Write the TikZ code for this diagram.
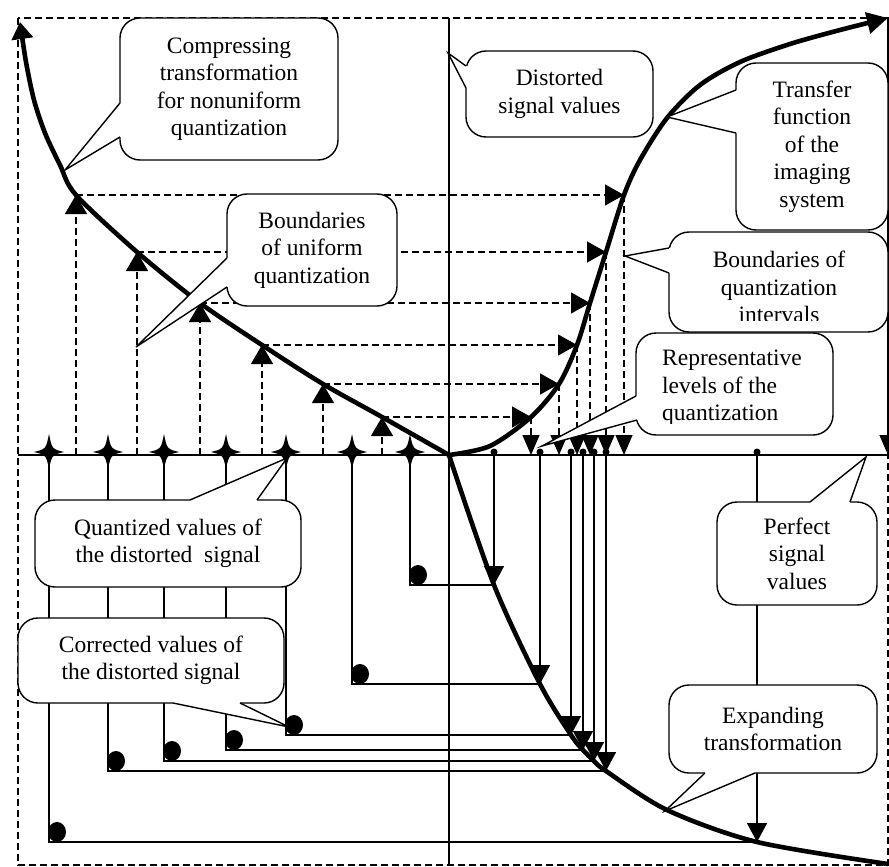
\documentclass[tikz,border=0pt]{standalone}
\usepackage{fontspec}
\setmainfont{Liberation Serif}
\usepackage{tikz}
\usetikzlibrary{arrows.meta, calc}
\newcommand{\bubbletail}[4]{%
  \fill[white] ($(#1)+(#4)$) -- (#1) -- (#2) -- (#3) -- ($(#3)+(#4)$) -- cycle;
  \draw[line width=1.4pt] (#1) -- (#2) -- (#3);}

\begin{document}
\begin{tikzpicture}[x=1pt, y=-1pt,
    dashline/.style={dash pattern=on 7pt off 4pt, line width=1.4pt},
    edgeline/.style={dash pattern=on 7pt off 4pt, line width=1.2pt},
    wire/.style={line width=1.5pt},
    fcurve/.style={line width=4.6pt},
    upArr/.style={-{Triangle[length=19pt,width=22pt]}},
    rightArr/.style={-{Triangle[length=19pt,width=21pt]}},
    downArr/.style={-{Triangle[length=20pt,width=17pt]}},
    hitArr/.style={-{Triangle[length=19pt,width=20pt]}},
    lbl/.style={font=\fontsize{23.5}{27.5}\selectfont, inner sep=0pt},
    callbox/.style={lbl, draw, fill=white, line width=1.4pt, rounded corners=20pt, align=center},
    qstar/.pic={\fill (0,-21) .. controls (3,-6) .. (15,-3) .. controls (3,0) .. (0,14)
      .. controls (-3,0) .. (-15,-3) .. controls (-3,-6) .. (0,-21) -- cycle;}
  ]
  \useasboundingbox (0,0) rectangle (889,867);

  % frame and axes
  \coordinate (o) at (449,455);
  \coordinate (ax) at (0,455);
  \coordinate (axl) at (18,455);
  \coordinate (axr) at (888,455);
  \coordinate (vt) at (449,18);
  \coordinate (vb) at (449,865);
  \coordinate (tr) at (888,18);
  \draw[edgeline] (18,18) rectangle (888,865);
  \draw[line width=1.5pt] (vt) -- (vb);
  \draw[line width=2.2pt] (axl) -- (axr);
  \draw[dashline, downArr] (tr) -- (axr);

  % uniform boundaries -> transfer function -> interval boundaries
  \foreach \lx/\ly/\tx [count=\i] in {76/195/624, 137/252/606, 200/303/590, 262/345/577, 323/384/559, 382/417/531} {
    \coordinate (l\i) at (\lx,\ly);
    \coordinate (t\i) at (\tx,\ly);
    \draw[dashline, upArr] (l\i |- ax) -- (l\i);
    \draw[dashline, rightArr] (l\i) -- (t\i);
    \draw[dashline, downArr] (t\i) -- (t\i |- ax);
  }

  % the three curves
  \draw[fcurve, -{Triangle[length=17pt,width=21pt]}] plot[smooth, tension=0.5] coordinates
    {(449,455) (382,417) (323,384) (262,345) (200,303) (137,252) (76,195) (60,165) (45,133) (34,100) (26,62) (20,22)};
  \draw[fcurve, -{Triangle[length=21pt,width=21pt]}] plot[smooth, tension=0.5] coordinates
    {(449,455) (490,446) (531,417) (559,384) (577,345) (590,303) (606,252) (624,195) (640,160) (667,118) (700,85) (740,62) (790,44) (840,30) (888,18)};
  \draw[fcurve] plot[smooth, tension=0.5] coordinates
    {(449,455) (494,585) (540,684) (571,735) (583,750) (594,761) (606,771) (667,810) (757,842) (888,864)};

  % representative levels -> expanding transformation -> corrected values
  \foreach \ex/\ey/\qx [count=\i] in {494/585/410, 540/684/352, 571/735/286, 583/750/226, 594/761/164, 606/771/108, 757/842/49} {
    \coordinate (e\i) at (\ex,\ey);
    \coordinate (q\i) at (\qx,455);
    \coordinate (k\i) at (\qx,\ey);
    \draw[wire, hitArr] (e\i |- ax) -- (e\i);
    \draw[wire] (e\i) -- (k\i) -- (q\i);
    \fill ($(k\i)+(8,-10)$) ellipse [x radius=9pt, y radius=10pt];
    \fill ($(e\i |- ax)+(0,-3)$) circle [radius=3.5pt];
    \pic at (q\i) {qstar};
  }

  % callouts
  \node[callbox, minimum width=218pt, minimum height=142pt] (comp) at (229,89) {Compressing\\transformation\\for nonuniform\\quantization};
  \bubbletail{120,103}{65,170}{120,137}{3,0}
  \node[callbox, minimum width=170pt, minimum height=112pt] (unib) at (312,250) {Boundaries\\of uniform\\quantization};
  \bubbletail{227,258}{136,347}{227,287}{3,0}
  \node[callbox, minimum width=187pt, minimum height=86pt] (dist) at (559.5,94) {Distorted\\signal values};
  \bubbletail{466,66}{448,53}{466,88}{3,0}
  \node[callbox, minimum width=152pt, minimum height=167pt] (trans) at (812,146.5) {Transfer\\function\\of the\\imaging\\system};
  \bubbletail{736,90}{667,117}{736,133}{3,0}
  \node[callbox, minimum width=219pt, minimum height=100pt] (intb) at (778.5,282) {};
  \bubbletail{669,248}{625,256}{669,273}{3,0}
  \begin{scope}
    \clip (669,232) rectangle (888,320);
    \node[lbl, align=center] (intbtext) at (779,287) {Boundaries of\\quantization\\intervals};
  \end{scope}
  \node[callbox, minimum width=197pt, minimum height=102pt] (repl) at (734.5,384) {};
  \bubbletail{636,396}{542,446}{637,420}{3,0}
  \begin{scope}
    \clip (636,333) rectangle (833,423.5);
    \node[lbl, align=left, anchor=west] (repltext) at (662,388) {Representative\\levels of the\\quantization};
  \end{scope}
  \node[callbox, minimum width=266pt, minimum height=87pt] (quan) at (168,543.5) {Quantized values of\\the distorted~ signal};
  \bubbletail{190,500}{287,458}{257,500}{0,3}
  \node[callbox, minimum width=266pt, minimum height=85pt] (corr) at (151,660.5) {Corrected values of\\the distorted signal};
  \bubbletail{173,703}{289,727}{240,703}{0,-3}
  \node[callbox, minimum width=160pt, minimum height=103pt] (perf) at (797,553.5) {Perfect\\signal\\values};
  \bubbletail{810,502}{866,457}{850,502}{0,3}
  \node[callbox, minimum width=208pt, minimum height=88pt] (expa) at (773,729) {Expanding\\transformation};
  \bubbletail{705,773}{665,811}{755,773}{0,-3}
\end{tikzpicture}
\end{document}
